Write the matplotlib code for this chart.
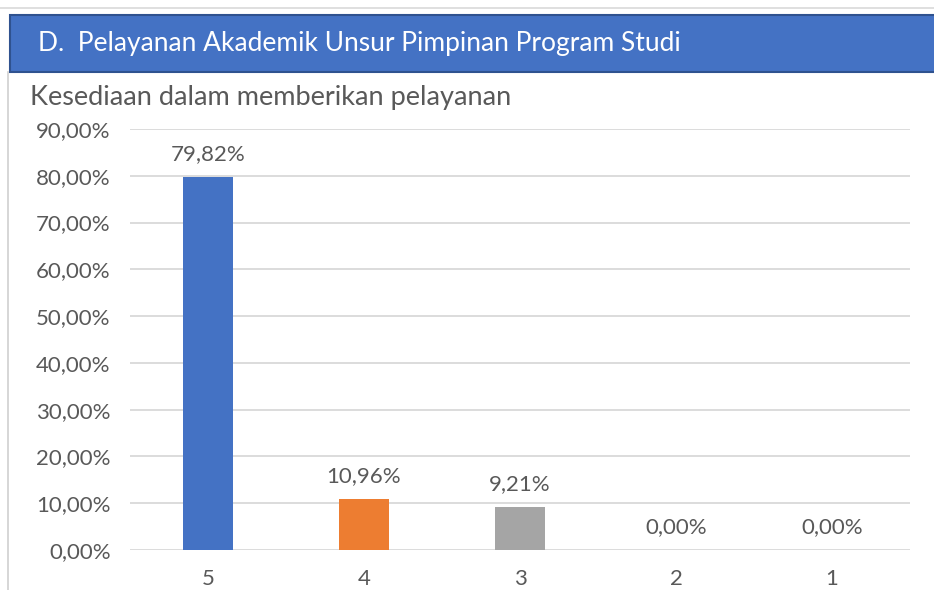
import matplotlib.pyplot as plt
from matplotlib.patches import Rectangle
from matplotlib.lines import Line2D

categories = ["5", "4", "3", "2", "1"]
values = [79.82, 10.96, 9.21, 0.00, 0.00]
bar_colors = ["#4472C4", "#ED7D31", "#A5A5A5", "#FFC000", "#5B9BD5"]
header = "D.  Pelayanan Akademik Unsur Pimpinan Program Studi"
title = "Kesediaan dalam memberikan pelayanan"
yticks = [0, 10, 20, 30, 40, 50, 60, 70, 80, 90]

plt.rcParams['font.family'] = ['Lato', 'DejaVu Sans']
text_col = "#595959"

W, H = 934, 590
fig = plt.figure(figsize=(W / 100, H / 100), dpi=100, facecolor='white')

# frame lines and header band
fig.add_artist(Line2D([0, 1], [1 - 8 / H, 1 - 8 / H], color="#D9D9D9", lw=1.2))
fig.add_artist(Line2D([8 / W, 8 / W], [0, 1 - 72 / H], color="#D0D0D0", lw=1.2))
fig.add_artist(Rectangle((10 / W, 1 - 72 / H), 1.0, 57 / H, facecolor="#4472C4",
                         edgecolor="#2F528F", lw=1.5, transform=fig.transFigure))
fig.text(38 / W, 1 - 44 / H, header, color="white", fontsize=19, va='center', ha='left')
fig.text(30 / W, 1 - 98 / H, title, color=text_col, fontsize=19.5, va='center', ha='left')

ax = fig.add_axes([130 / W, 1 - 550 / H, 780 / W, 421 / H])
x = range(len(categories))
ax.bar(x, values, width=0.32, color=bar_colors, zorder=3)
for xi, v in zip(x, values):
    ax.text(xi, v + 4.9, f"{v:.2f}%".replace(".", ","), ha='center', va='center',
            fontsize=16, color=text_col)

ax.set_xlim(-0.5, len(categories) - 0.5)
ax.set_ylim(0, 90)
ax.set_yticks(yticks)
ax.set_yticklabels([f"{t:.2f}%".replace(".", ",") for t in yticks])
ax.set_xticks(list(x))
ax.set_xticklabels(categories)
ax.tick_params(length=0, labelsize=16, colors=text_col)
ax.tick_params(axis='y', pad=14)
ax.tick_params(axis='x', pad=14)
ax.grid(axis='y', color="#D9D9D9", lw=1.3, zorder=0)
for s in ax.spines.values():
    s.set_visible(False)

fig.savefig("out.png", dpi=100)
